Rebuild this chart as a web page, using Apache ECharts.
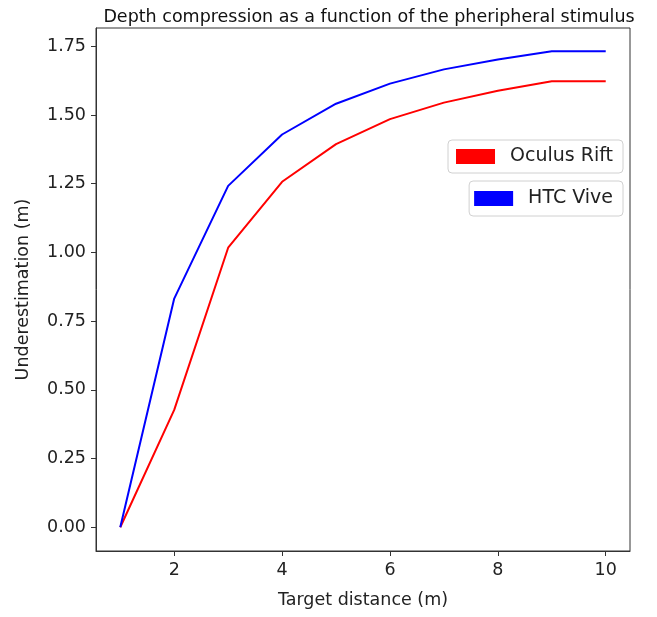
<!DOCTYPE html>
<html>
<head>
<meta charset="utf-8">
<script src="https://cdn.jsdelivr.net/npm/echarts@6/dist/echarts.min.js"></script>
<style>html,body{margin:0;padding:0;background:#fff}#chart{width:657px;height:617px}</style>
</head>
<body>
<div id="chart"></div>
<script>
const distances = [1, 2, 3, 4, 5, 6, 7, 8, 9, 10];
const oculusRift = [0, 0.427, 1.017, 1.257, 1.394, 1.485, 1.545, 1.588, 1.623, 1.623];
const htcVive = [0, 0.832, 1.242, 1.429, 1.541, 1.614, 1.666, 1.702, 1.732, 1.732];
const xTicks = [2, 4, 6, 8, 10];
const yTicks = [0, 0.25, 0.5, 0.75, 1.0, 1.25, 1.5, 1.75];

const font = 'DejaVu Sans';
const fs = 17.5;
const chart = echarts.init(document.getElementById('chart'));
const pairs = (ys) => distances.map((x, i) => [x, ys[i]]);
const legendBase = {
  orient: 'vertical',
  icon: 'rect',
  itemWidth: 39,
  itemHeight: 15,
  borderColor: '#d0d0d0',
  borderWidth: 1,
  borderRadius: 4,
  backgroundColor: '#fff',
  textStyle: { fontFamily: font, fontSize: 19, color: '#222', padding: [0, 0, 0, 10] }
};
chart.setOption({
  animation: false,
  title: {
    text: 'Depth compression as a function of the pheripheral stimulus',
    left: 364, textAlign: 'center', top: 3,
    textStyle: { fontFamily: font, fontSize: fs, fontWeight: 'normal', color: '#111' }
  },
  grid: { left: 96, right: 27, top: 28, bottom: 66, show: true, borderColor: '#333', borderWidth: 1 },
  xAxis: {
    type: 'value', min: 0.55, max: 10.45,
    name: 'Target distance (m)', nameLocation: 'middle', nameGap: 40,
    nameTextStyle: { fontFamily: font, fontSize: fs, color: '#222' },
    axisLine: { show: true, onZero: false, lineStyle: { color: '#333' } },
    axisTick: { show: true, length: 5, customValues: xTicks, lineStyle: { color: '#333' } },
    axisLabel: { customValues: xTicks, fontFamily: font, fontSize: fs, color: '#222', margin: 10 },
    splitLine: { show: false }
  },
  yAxis: {
    type: 'value', min: -0.0865, max: 1.8165,
    name: 'Underestimation (m)', nameLocation: 'middle', nameGap: 64, nameRotate: 90,
    nameTextStyle: { fontFamily: font, fontSize: fs, color: '#222' },
    axisLine: { show: true, onZero: false, lineStyle: { color: '#333' } },
    axisTick: { show: true, length: 5, customValues: yTicks, lineStyle: { color: '#333' } },
    axisLabel: { customValues: yTicks, fontFamily: font, fontSize: fs, color: '#222', margin: 10,
      formatter: (v) => v.toFixed(2) },
    splitLine: { show: false }
  },
  legend: [
    Object.assign({}, legendBase, { data: ['Oculus Rift'], right: 34, top: 140, padding: [7, 10, 7, 8] }),
    Object.assign({}, legendBase, { data: ['HTC Vive'], right: 34, top: 181, padding: [8, 10, 8, 5] })
  ],
  series: [
    { name: 'Oculus Rift', type: 'line', data: pairs(oculusRift), showSymbol: false,
      color: '#ff0000', lineStyle: { width: 2, color: '#ff0000' } },
    { name: 'HTC Vive', type: 'line', data: pairs(htcVive), showSymbol: false,
      color: '#0000ff', lineStyle: { width: 2, color: '#0000ff' } }
  ]
});
</script>
</body>
</html>
